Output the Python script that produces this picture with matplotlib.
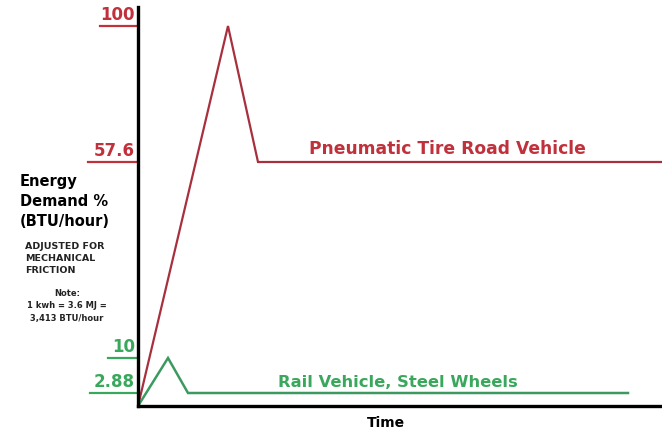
import numpy as np
import matplotlib
matplotlib.use("Agg")
import matplotlib.pyplot as plt
import matplotlib.transforms as mtransforms

# data (time in arbitrary units, demand in %)
road_t = [0, 90, 120, 524]
road_v = [0, 100, 57.6, 57.6]
rail_t = [0, 30, 50, 490]
rail_v = [0, 10, 2.88, 2.88]

red_ticks = [100, 57.6]
green_ticks = [10, 2.88]

# the original y axis is not linear: piecewise map value -> height
val_pts = np.array([0, 2.88, 10, 57.6, 100, 106])
pos_pts = np.array([0, 13, 48, 244, 380, 399])

def fwd(v):
    return np.interp(v, val_pts, pos_pts)

def inv(p):
    return np.interp(p, pos_pts, val_pts)

RED = "#a8303e"
RED_TXT = "#c0313c"
GREEN = "#3c9a60"
GREEN_TXT = "#3aa85c"

fig = plt.figure(figsize=(6.62, 4.32), dpi=100)
ax = fig.add_axes([138 / 662, 26 / 432, 1 - 138 / 662, 399 / 432])
ax.set_yscale("function", functions=(fwd, inv))
ax.set_xlim(0, 524)
ax.set_ylim(0, 106)

ax.plot(road_t, road_v, color=RED, lw=1.6, solid_joinstyle="miter")
ax.plot(rail_t, rail_v, color=GREEN, lw=1.8, solid_joinstyle="miter")

for s in ["top", "right"]:
    ax.spines[s].set_visible(False)
ax.spines["left"].set_linewidth(2.4)
ax.spines["bottom"].set_linewidth(2.4)
ax.set_xticks([])
ax.set_yticks([])

# underlined tick labels drawn left of the spine
trans = mtransforms.blended_transform_factory(ax.transAxes, ax.transData)
off = mtransforms.offset_copy
def ylabel_tick(v, txt, col, x0):
    ax.plot([x0, 0], [v, v], color=col, lw=1.6, transform=trans, clip_on=False)
    ax.text(-0.006, v, txt, color=col, fontsize=12, fontweight="bold",
            ha="right", va="bottom",
            transform=off(trans, fig=fig, x=0, y=2, units="dots"))

ylabel_tick(100, "100", RED_TXT, -0.072)
ylabel_tick(57.6, "57.6", RED_TXT, -0.095)
ylabel_tick(10, "10", GREEN_TXT, -0.057)
ylabel_tick(2.88, "2.88", GREEN_TXT, -0.092)

ax.text(0.59, 58.8, "Pneumatic Tire Road Vehicle", color=RED_TXT, fontsize=12.3,
        fontweight="bold", ha="center", va="bottom", transform=trans)
ax.text(0.495, 3.4, "Rail Vehicle, Steel Wheels", color=GREEN_TXT, fontsize=11.8,
        fontweight="bold", ha="center", va="bottom", transform=trans)

fig.text(386 / 662, 1 - 423 / 432, "Time", fontsize=10, fontweight="bold",
         ha="center", va="center")

fig.text(20 / 662, 1 - 174 / 432, "Energy\nDemand %\n(BTU/hour)", fontsize=10.5,
         fontweight="bold", ha="left", va="top", linespacing=1.4)
fig.text(25 / 662, 1 - 242 / 432, "ADJUSTED FOR\nMECHANICAL\nFRICTION", fontsize=6.8,
         fontweight="bold", ha="left", va="top", color="#222222", linespacing=1.45)
fig.text(67 / 662, 1 - 289 / 432, "Note:\n1 kwh = 3.6 MJ =\n3,413 BTU/hour",
         fontsize=6, fontweight="bold", ha="center", va="top", color="#222222",
         linespacing=1.5)

fig.savefig("out.png", dpi=100)
